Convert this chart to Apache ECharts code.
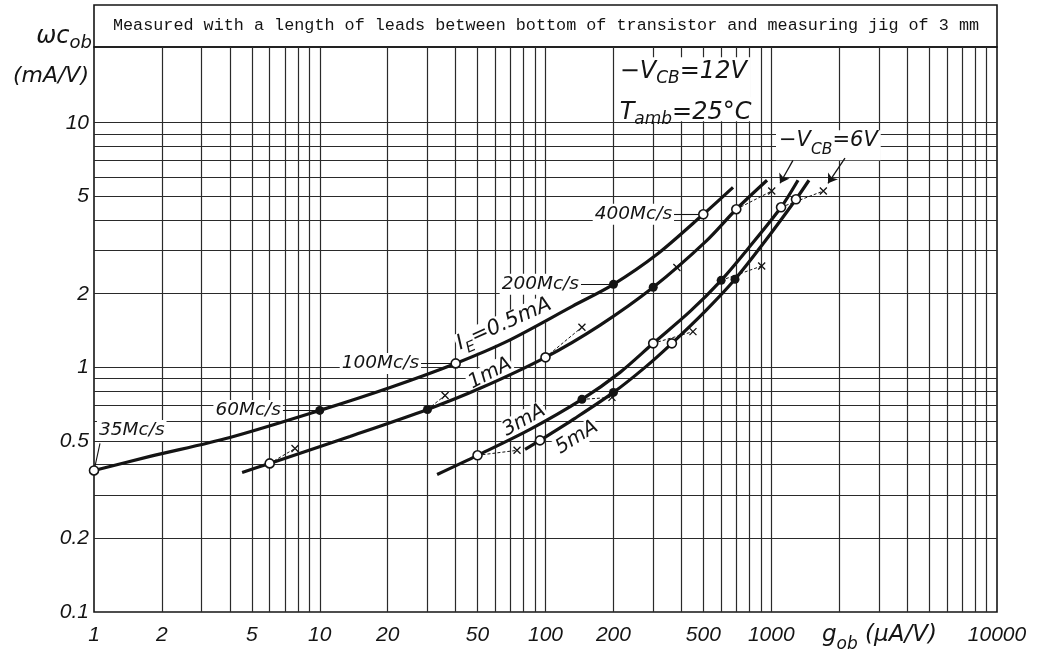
<!DOCTYPE html>
<html><head><meta charset="utf-8">
<script src="https://cdn.jsdelivr.net/npm/echarts@6/dist/echarts.min.js"></script>
<style>html,body{margin:0;padding:0;background:#fff;}#c{width:1041px;height:662px;}</style>
</head><body><div id="c"></div>
<script>
// ---------------- data ----------------
const xTickLabels = [1, 2, 5, 10, 20, 50, 100, 200, 500, 1000, 10000];
const yTickLabels = [0.1, 0.2, 0.5, 1, 2, 5, 10];
const gridMantissas = [1, 2, 3, 4, 5, 6, 7, 8, 9];
const xDecades = [1, 10, 100, 1000];
const yDecades = [0.1, 1];

// curves: g_ob (uA/V) and omega*c_ob (mA/V)
const ie05G = [1, 1.77, 4.0, 10, 20.5, 40, 67.5, 132, 200, 312, 500, 677];
const ie05W = [0.379, 0.4325, 0.517, 0.667, 0.828, 1.038, 1.277, 1.78, 2.185, 2.899, 4.225, 5.446];
const ie1G = [4.53, 6, 13.6, 30, 51.3, 100, 174, 300, 519, 700, 958];
const ie1W = [0.372, 0.405, 0.522, 0.673, 0.821, 1.099, 1.485, 2.125, 3.306, 4.43, 5.82];
const ie3G = [33.1, 50, 85.4, 145, 214, 300, 437, 600, 805, 1105, 1314];
const ie3W = [0.365, 0.437, 0.558, 0.74, 0.954, 1.254, 1.694, 2.269, 3.126, 4.512, 5.82];
const ie5G = [81.2, 94.5, 135, 200, 276, 363, 509, 691, 938, 1287, 1469];
const ie5W = [0.462, 0.503, 0.619, 0.79, 1.0, 1.254, 1.694, 2.291, 3.276, 4.866, 5.82];

// frequency markers (35, 60, 100, 200, 400 Mc/s) on each curve
const freqLabels = ['35Mc/s', '60Mc/s', '100Mc/s', '200Mc/s', '400Mc/s'];
const mk05 = [[1, 0.379], [10, 0.667], [40, 1.038], [200, 2.185], [500, 4.225]];
const mk1 = [[6, 0.405], [30, 0.673], [100, 1.099], [300, 2.125], [700, 4.43]];
const mk3 = [[50, 0.437], [145, 0.74], [300, 1.254], [600, 2.269], [1105, 4.512]];
const mk5 = [[94.5, 0.503], [200, 0.79], [363, 1.254], [691, 2.291], [1287, 4.866]];
// same frequencies at -VCB = 6V
const vcb6At1mA = [[7.77, 0.466], [35.9, 0.768], [145, 1.46], [382, 2.56], [1005, 5.26]];
const vcb6At3mA = [[74.8, 0.458], [197, 0.754], [450, 1.40], [907, 2.596], [1701, 5.26]];

// ---------------- helpers ----------------
const ink = '#141414';
const TF = 'DejaVu Sans';
const tickFont = 'Liberation Sans';
const toPairs = (g, w) => g.map((v, i) => [v, w[i]]);

const xGridVals = [];
xDecades.forEach(d => gridMantissas.forEach(m => { const v = +(m * d).toPrecision(6); if (v > 1 && v < 10000) xGridVals.push(v); }));
const yGridVals = [];
yDecades.forEach(d => gridMantissas.forEach(m => { const v = +(m * d).toPrecision(6); if (v > 0.1) yGridVals.push(v); }));
yGridVals.push(10);

function richSet(main, sub, mainLH, subLH, subPad) {
  return {
    m: { fontFamily: TF, fontStyle: 'italic', fontSize: main, lineHeight: mainLH, verticalAlign: 'top', color: ink, opacity: 1 },
    s: { fontFamily: TF, fontStyle: 'italic', fontSize: sub, lineHeight: subLH, verticalAlign: 'top', padding: [subPad, 0, 0, 0], color: ink, opacity: 1 }
  };
}
function plainLabel(text, pos, size) {
  return { show: true, position: pos, distance: 0, formatter: text, fontFamily: TF, fontStyle: 'italic', opacity: 1,
    fontSize: size, color: ink, backgroundColor: '#fff', padding: [1, 2] };
}
function rotLabel(text, rot, size, rich) {
  const l = { show: true, position: 'inside', formatter: text, rotate: rot, fontFamily: TF, fontStyle: 'italic', opacity: 1,
    fontSize: size, color: ink, backgroundColor: '#fff', padding: [0, 1] };
  if (rich) l.rich = rich;
  return l;
}
function condLabel(text, pad, rich) {
  return { show: true, position: 'right', distance: 1, backgroundColor: '#fff', padding: pad, opacity: 1, formatter: text, rich: rich };
}

// annotation anchors (data units)
const annData = [
  { value: [1.031, 0.552], label: plainLabel(freqLabels[0], 'right', 18.5) },
  { value: [6.87, mk05[1][1]], label: plainLabel(freqLabels[1], 'left', 18.5) },
  { value: [28.1, mk05[2][1]], label: plainLabel(freqLabels[2], 'left', 18.5) },
  { value: [143.6, mk05[3][1]], label: plainLabel(freqLabels[3], 'left', 18.5) },
  { value: [371, mk05[4][1]], label: plainLabel(freqLabels[4], 'left', 18.5) },
  { value: [66.2, 1.471], label: rotLabel('{m|I}{s|E}{m|=0.5mA}', 24, 21, richSet(21, 15, 26, 18, 11)) },
  { value: [56.8, 0.945], label: rotLabel('1mA', 28, 20) },
  { value: [80.3, 0.607], label: rotLabel('3mA', 29, 20) },
  { value: [137.9, 0.517], label: rotLabel('5mA', 32, 20) },
  { value: [204.6, 15.21], label: condLabel('{m|\u2212V}{s|CB}{m|=12V}', [3, 4, 9, 3], richSet(24, 17, 30, 20, 10)) },
  { value: [204.6, 11.36], label: condLabel('{m|T}{s|amb}{m|=25\u00B0C}', [4, 4, 0, 3], richSet(24, 17, 20, 12, 10)) },
  { value: [1039, 8.09], label: condLabel('{m|\u2212V}{s|CB}{m|=6V}', [0, 3], richSet(21, 15.5, 30, 18, 12)) }
];

const leaderLines = [
  [[1.063, 0.489], [1.01, 0.394]],
  [[6.87, mk05[1][1]], mk05[1]],
  [[28.1, mk05[2][1]], mk05[2]],
  [[143.6, mk05[3][1]], mk05[3]],
  [[371, mk05[4][1]], mk05[4]]
];
const arrowLines = [
  [[1248, 7.02], [1094, 5.655]],
  [[2121, 7.16], [1784, 5.655]]
];
const dashPairs = mk1.map((p, i) => [p, vcb6At1mA[i]]).concat(mk3.map((p, i) => [p, vcb6At3mA[i]]));

const allMk = [mk05, mk1, mk3, mk5];
const openPts = [], filledPts = [];
allMk.forEach(mk => mk.forEach((p, i) => (i % 2 === 0 ? openPts : filledPts).push(p)));

function curve(g, w) {
  return { type: 'line', data: toPairs(g, w), smooth: 0.3, showSymbol: false, symbol: 'none',
    z: 3, silent: true, lineStyle: { color: ink, width: 3.2, opacity: 1 } };
}

const chart = echarts.init(document.getElementById('c'), null, { renderer: 'canvas' });
chart.setOption({
  animation: false,
  backgroundColor: '#fff',
  grid: { left: 94, right: 44, top: 47, bottom: 50, show: true, borderColor: ink, borderWidth: 1.6, backgroundColor: 'transparent' },
  xAxis: { type: 'log', logBase: 10, min: 1, max: 10000, axisLine: { show: false }, axisTick: { show: false },
    axisLabel: { show: false }, splitLine: { show: false } },
  yAxis: { type: 'log', logBase: 10, min: 0.1, max: 20.4, axisLine: { show: false }, axisTick: { show: false },
    axisLabel: { show: false }, splitLine: { show: false } },
  graphic: [
    { type: 'rect', shape: { x: 94, y: 5, width: 903, height: 42 }, style: { fill: 'none', stroke: ink, lineWidth: 1.6 }, silent: true },
    { type: 'text', x: 546, y: 26, silent: true, style: { text: 'Measured with a length of leads between bottom of transistor and measuring jig of 3 mm',
      fontFamily: 'Liberation Mono', fontSize: 16.8, fill: ink, align: 'center', verticalAlign: 'middle' } },
    { type: 'text', x: 92, y: 25, silent: true, style: { text: '{m|\u03C9c}{s|ob}', align: 'right', verticalAlign: 'top',
      rich: { m: { fontFamily: TF, fontStyle: 'italic', fontSize: 24, lineHeight: 28, verticalAlign: 'top', fill: ink },
              s: { fontFamily: TF, fontStyle: 'italic', fontSize: 18, lineHeight: 20, verticalAlign: 'top', padding: [9, 0, 0, 0], fill: ink } } } },
    { type: 'text', x: 89, y: 76, silent: true, style: { text: '(mA/V)', fontFamily: TF, fontStyle: 'italic', fontSize: 22, fill: ink,
      align: 'right', verticalAlign: 'middle' } },
    { type: 'text', x: 822, y: 624, silent: true, style: { text: '{m|g}{s|ob}{m| (\u03BCA/V)}', align: 'left', verticalAlign: 'top',
      rich: { m: { fontFamily: TF, fontStyle: 'italic', fontSize: 23, lineHeight: 27, verticalAlign: 'top', fill: ink },
              s: { fontFamily: TF, fontStyle: 'italic', fontSize: 17, lineHeight: 19, verticalAlign: 'top', padding: [12, 0, 0, 0], fill: ink } } } }
  ],
  series: [
    { // log-paper grid
      type: 'line', data: [], silent: true, z: 1,
      markLine: { z: 1, silent: true, symbol: 'none', animation: false, label: { show: false }, emphasis: { disabled: true },
        lineStyle: { color: '#2a2a2a', width: 1.2, type: 'solid', opacity: 1 },
        data: xGridVals.map(v => ({ xAxis: v })).concat(yGridVals.map(v => ({ yAxis: v }))) }
    },
    { // annotation labels
      type: 'scatter', data: annData, symbolSize: 0, z: 2, silent: true, clip: false, itemStyle: { opacity: 1 }
    },
    curve(ie05G, ie05W), curve(ie1G, ie1W), curve(ie3G, ie3W), curve(ie5G, ie5W),
    { // leader lines, arrows and 6V connectors
      type: 'line', data: [], silent: true, z: 3,
      markLine: { z: 3, silent: true, animation: false, label: { show: false }, emphasis: { disabled: true }, symbol: 'none',
        data: leaderLines.map(l => [{ coord: l[0], lineStyle: { color: ink, width: 1.1, type: 'solid', opacity: 1 } }, { coord: l[1] }])
          .concat(arrowLines.map(l => [{ coord: l[0], symbol: 'none', lineStyle: { color: ink, width: 1.3, type: 'solid', opacity: 1 } },
                                      { coord: l[1], symbol: 'arrow', symbolSize: 9 }]))
          .concat(dashPairs.map(l => [{ coord: l[0], lineStyle: { color: ink, width: 1, type: [3, 2], opacity: 1 } }, { coord: l[1] }])) }
    },
    { type: 'scatter', data: vcb6At1mA.concat(vcb6At3mA), z: 4, silent: true, clip: false,
      symbol: 'path://M0,0L10,10M10,0L0,10', symbolSize: 7,
      itemStyle: { color: 'none', borderColor: ink, borderWidth: 1.3, opacity: 1 } },
    { type: 'scatter', data: filledPts, z: 4, silent: true, clip: false, symbol: 'circle', symbolSize: 9,
      itemStyle: { color: ink, opacity: 1 } },
    { type: 'scatter', data: openPts, z: 4, silent: true, clip: false, symbol: 'circle', symbolSize: 9,
      itemStyle: { color: '#fff', borderColor: ink, borderWidth: 1.6, opacity: 1 } },
    { // x tick labels
      type: 'scatter', data: xTickLabels.map(v => [v, 0.1]), symbolSize: 0, silent: true, clip: false, z: 2,
      itemStyle: { opacity: 1 },
      label: { show: true, position: 'bottom', distance: 13, formatter: p => String(p.value[0]), opacity: 1,
        fontFamily: tickFont, fontStyle: 'italic', fontSize: 21, color: ink } },
    { // y tick labels
      type: 'scatter', data: yTickLabels.map(v => [1, v]), symbolSize: 0, silent: true, clip: false, z: 2,
      itemStyle: { opacity: 1 },
      label: { show: true, position: 'left', distance: 5, formatter: p => String(p.value[1]), opacity: 1,
        fontFamily: tickFont, fontStyle: 'italic', fontSize: 21, color: ink } }
  ]
});
</script>
</body></html>
